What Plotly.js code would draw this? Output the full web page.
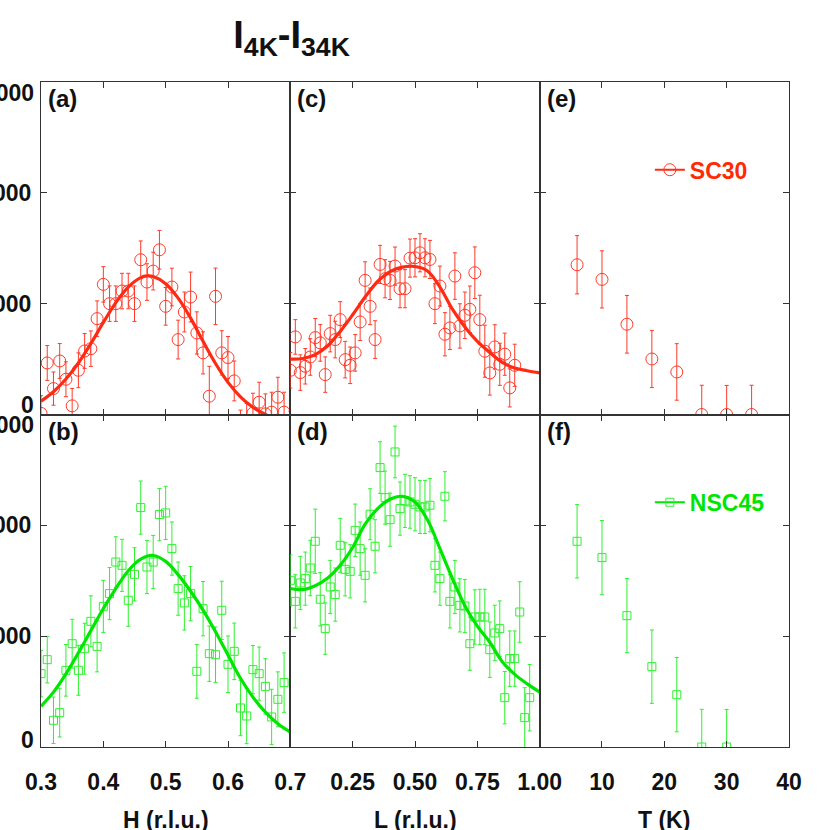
<!DOCTYPE html>
<html><head><meta charset="utf-8">
<script src="https://cdn.plot.ly/plotly-3.0.1.min.js"></script>
<style>html,body{margin:0;padding:0;background:#fff}#chart{width:830px;height:830px}</style>
</head><body><div id="chart"></div>
<script>
// ---------- data ----------
const hScanA = [0.30,0.31,0.32,0.33,0.34,0.35,0.36,0.37,0.38,0.39,0.40,0.41,0.42,0.43,0.44,0.45,0.46,0.47,0.48,0.49,0.50,0.51,0.52,0.53,0.54,0.55,0.56,0.57,0.58,0.59,0.60,0.61,0.62,0.63,0.64,0.65,0.66,0.67,0.68,0.69,0.70];
const sc30H = [10,465,234,483,318,78,399,573,594,865,1174,1000,1000,1114,1114,1000,1396,1195,1294,1486,976,1150,676,925,1060,736,556,165,1066,556,514,303,-140,-80,12,111,6,21,156,21,-150];
const sc30HErr = [160,157,150,157,157,157,157,157,160,160,160,160,160,160,160,160,170,165,170,175,170,170,175,180,225,190,190,270,255,200,190,180,180,180,180,180,180,180,180,180,180];

const hScanB = [0.30,0.31,0.32,0.33,0.34,0.35,0.36,0.37,0.38,0.39,0.40,0.41,0.42,0.43,0.44,0.45,0.46,0.47,0.48,0.49,0.50,0.51,0.52,0.53,0.54,0.55,0.56,0.57,0.58,0.59,0.60,0.61,0.62,0.63,0.64,0.65,0.66,0.67,0.68,0.69];
const nsc45H = [662,788,241,310,692,932,692,887,1134,908,1269,1384,1669,1639,1324,1558,2160,1624,1669,2097,2112,1790,1429,1300,1384,683,1248,842,833,1233,746,863,352,280,698,662,547,271,430,581];
const nsc45HErr = [210,210,210,220,233,220,225,230,230,230,235,235,228,235,235,240,240,240,240,236,240,240,240,245,245,243,245,250,250,263,255,255,250,250,218,240,250,250,248,268];

const lScanC = [0.00,0.02,0.04,0.06,0.08,0.10,0.12,0.14,0.16,0.18,0.20,0.22,0.24,0.26,0.28,0.30,0.32,0.34,0.36,0.38,0.40,0.42,0.44,0.46,0.48,0.50,0.52,0.54,0.56,0.58,0.60,0.62,0.64,0.66,0.68,0.70,0.72,0.74,0.76,0.78,0.80,0.82,0.84,0.86,0.88,0.90];
const sc30L = [399,700,378,435,519,694,646,360,730,676,856,495,444,556,835,1210,976,676,1354,1225,1210,1339,1135,1135,1411,1414,1459,1414,1399,1000,1159,724,781,1249,799,895,949,1279,856,571,375,610,453,544,240,444];
const sc30LErr = [160,156,160,160,165,172,165,160,165,165,162,165,165,165,168,168,165,170,172,172,172,172,172,172,172,172,172,172,172,180,180,195,195,210,200,210,210,233,220,235,200,200,190,190,172,190];

const lScanD = [0.00,0.02,0.04,0.06,0.08,0.10,0.12,0.14,0.16,0.18,0.20,0.22,0.24,0.26,0.28,0.30,0.32,0.34,0.36,0.38,0.40,0.42,0.44,0.46,0.48,0.50,0.52,0.54,0.56,0.58,0.60,0.62,0.64,0.66,0.68,0.70,0.72,0.74,0.76,0.78,0.80,0.82,0.84,0.86,0.88,0.90,0.92,0.94,0.96];
const nsc45L = [1504,1314,1480,1519,1615,1856,1333,1068,1444,1375,1820,1603,1585,1955,1790,1549,2100,1811,2521,2250,2051,2662,2151,2220,2211,2190,2166,2166,2181,1639,1519,2262,1314,1444,1278,1272,932,1173,1173,1173,878,1029,1068,445,797,797,1218,265,445];
const nsc45LErr = [230,240,240,240,250,290,240,232,240,240,243,240,240,237,240,240,230,240,233,240,240,233,240,240,237,240,240,240,240,240,240,222,240,240,240,240,240,245,250,250,250,250,250,236,250,250,273,270,300];

const tempE = [6,10,14,18,22,26,30,34];
const sc30T = [1351,1219,814,501,384,0,0,0];
const sc30TErr = [263,258,260,258,255,264,262,264];

const tempF = [6,10,14,18,22,26,30];
const nsc45T = [1856,1709,1185,725,472,0,0];
const nsc45TErr = [331,335,334,331,335,340,338];

// fitted curves
const fitHA = [0.30,0.32,0.34,0.36,0.38,0.40,0.42,0.44,0.46,0.47,0.48,0.50,0.52,0.54,0.56,0.58,0.60,0.62,0.64,0.66,0.68,0.70];
const fitSC30H = [120,205,320,465,640,830,1010,1150,1235,1250,1245,1180,1050,870,660,460,290,160,65,0,-50,-80];
const fitHB = [0.30,0.32,0.34,0.36,0.38,0.40,0.42,0.44,0.46,0.48,0.50,0.52,0.54,0.56,0.58,0.60,0.62,0.64,0.66,0.68,0.70];
const fitNSC45H = [367,495,660,850,1050,1250,1430,1590,1695,1728,1675,1555,1405,1235,1040,830,620,450,315,210,135];
const fitL = [0.00,0.05,0.10,0.15,0.20,0.25,0.30,0.35,0.40,0.45,0.50,0.55,0.60,0.65,0.70,0.75,0.80,0.85,0.90,0.95,1.00];
const fitSC30L = [500,505,540,620,750,900,1060,1200,1290,1330,1335,1295,1150,950,790,660,560,470,420,395,375];
const fitNSC45L = [1430,1420,1455,1525,1640,1800,2010,2150,2235,2262,2210,2050,1790,1520,1275,1090,945,770,655,570,496];

// axis ticks and labels
const yTickVals = [1000,2000];
const yTickText = ['1000','2000'];
const yEndLabels = [3000, 0];
const hTickVals = [0.3,0.4,0.5,0.6,0.7];
const hTickText = ['0.3','0.4','0.5','0.6','0.7'];
const lTickVals = [0.25,0.5,0.75,1.0];
const lTickText = ['0.25','0.50','0.75','1.00'];
const tTickVals = [10,20,30,40];
const tTickText = ['10','20','30','40'];
const panelLabels = ['(a)','(c)','(e)','(b)','(d)','(f)'];
const seriesNames = ['SC30','NSC45'];
const axisTitles = ['H (r.l.u.)','L (r.l.u.)','T (K)'];

// ---------- style ----------
const FONT = 'Liberation Sans, Arial, Helvetica, sans-serif';
const RED = '#ff2a14', RED_M = '#ff3a28';
const GREEN = '#00e600', GREEN_M = '#2ef02e';

function pts(x, y, err, xa, ya, sym, size, col) {
  return {x: x, y: y, type: 'scatter', mode: 'markers', xaxis: xa, yaxis: ya, showlegend: false,
    cliponaxis: true,
    marker: {symbol: sym, size: size, color: col, line: {color: col, width: 1}},
    error_y: {type: 'data', array: err, visible: true, color: col, thickness: 1, width: 2}};
}
function fit(x, y, xa, ya, col) {
  return {x: x, y: y, type: 'scatter', mode: 'lines', xaxis: xa, yaxis: ya, showlegend: false,
    line: {color: col, width: 3.2, shape: 'spline', smoothing: 1}, hoverinfo: 'skip'};
}

const data = [
  pts(hScanA, sc30H, sc30HErr, 'x', 'y', 'circle-open', 12, RED_M),
  fit(fitHA, fitSC30H, 'x', 'y', RED),
  pts(lScanC, sc30L, sc30LErr, 'x2', 'y2', 'circle-open', 12, RED_M),
  fit(fitL, fitSC30L, 'x2', 'y2', RED),
  pts(tempE, sc30T, sc30TErr, 'x3', 'y3', 'circle-open', 12, RED_M),
  pts(hScanB, nsc45H, nsc45HErr, 'x4', 'y4', 'square-open', 8, GREEN_M),
  fit(fitHB, fitNSC45H, 'x4', 'y4', GREEN),
  pts(lScanD, nsc45L, nsc45LErr, 'x5', 'y5', 'square-open', 8, GREEN_M),
  fit(fitL, fitNSC45L, 'x5', 'y5', GREEN),
  pts(tempF, nsc45T, nsc45TErr, 'x6', 'y6', 'square-open', 8, GREEN_M),
  // legend entries
  {x: [null], y: [null], type: 'scatter', mode: 'lines+markers', name: seriesNames[0], legend: 'legend',
   xaxis: 'x3', yaxis: 'y3', marker: {symbol: 'circle-open', size: 12, color: RED_M, line: {width: 1}},
   line: {color: RED, width: 2}},
  {x: [null], y: [null], type: 'scatter', mode: 'lines+markers', name: seriesNames[1], legend: 'legend2',
   xaxis: 'x6', yaxis: 'y6', marker: {symbol: 'square-open', size: 8, color: GREEN_M, line: {width: 1}},
   line: {color: GREEN, width: 2}}
];

const tickFont = {family: FONT, size: 23, weight: 'bold', color: '#111'};
function ax(extra) {
  return Object.assign({showline: true, linecolor: '#333', linewidth: 1, mirror: 'allticks',
    ticks: 'inside', ticklen: 6, tickcolor: '#333', tickwidth: 1, showgrid: false, zeroline: false,
    tickfont: tickFont, fixedrange: true}, extra);
}
const d1 = [0, 1/3], d2 = [1/3, 2/3], d3 = [2/3, 1];
const domTop = [0.5, 1], domBot = [0, 0.5];
const titleFont = {family: FONT, size: 23, weight: 'bold', color: '#111'};
const XSTAND = 14;

const layout = {
  width: 830, height: 830,
  margin: {l: 41, r: 41, t: 82, b: 83},
  paper_bgcolor: '#fff', plot_bgcolor: '#fff',
  font: {family: FONT, color: '#111'},
  title: {text: 'I<sub>4K</sub>-I<sub>34K</sub>', xref: 'paper', x: 0.335, xanchor: 'center',
          yref: 'container', y: 0.958, yanchor: 'middle',
          font: {family: FONT, size: 38, weight: 'bold', color: '#111'}},
  xaxis:  ax({domain: d1, range: [0.3, 0.7], anchor: 'y', tickvals: hTickVals, showticklabels: false}),
  yaxis:  ax({domain: domTop, range: [0, 3000], anchor: 'x', tickvals: yTickVals, ticktext: yTickText, ticklabelstandoff: 4}),
  xaxis2: ax({domain: d2, range: [0, 1], anchor: 'y2', tickvals: lTickVals, showticklabels: false}),
  yaxis2: ax({domain: domTop, range: [0, 3000], anchor: 'x2', tickvals: yTickVals, showticklabels: false}),
  xaxis3: ax({domain: d3, range: [0, 40], anchor: 'y3', tickvals: tTickVals, showticklabels: false}),
  yaxis3: ax({domain: domTop, range: [0, 3000], anchor: 'x3', tickvals: yTickVals, showticklabels: false}),
  xaxis4: ax({domain: d1, range: [0.3, 0.7], anchor: 'y4', tickvals: hTickVals, ticktext: hTickText,
              ticklabelstandoff: XSTAND}),
  yaxis4: ax({domain: domBot, range: [0, 3000], anchor: 'x4', tickvals: yTickVals, ticktext: yTickText, ticklabelstandoff: 4}),
  xaxis5: ax({domain: d2, range: [0, 1], anchor: 'y5', tickvals: lTickVals, ticktext: lTickText,
              ticklabelstandoff: XSTAND}),
  yaxis5: ax({domain: domBot, range: [0, 3000], anchor: 'x5', tickvals: yTickVals, showticklabels: false}),
  xaxis6: ax({domain: d3, range: [0, 40], anchor: 'y6', tickvals: tTickVals, ticktext: tTickText,
              ticklabelstandoff: XSTAND}),
  yaxis6: ax({domain: domBot, range: [0, 3000], anchor: 'x6', tickvals: yTickVals, showticklabels: false}),
  legend: {x: 0.814, y: 0.868, xref: 'paper', yref: 'paper', xanchor: 'left', yanchor: 'middle',
           bgcolor: 'rgba(0,0,0,0)', borderwidth: 0, itemwidth: 30,
           font: {family: FONT, size: 23, weight: 'bold', color: '#ff2a00'}},
  legend2: {x: 0.814, y: 0.368, xref: 'paper', yref: 'paper', xanchor: 'left', yanchor: 'middle',
           bgcolor: 'rgba(0,0,0,0)', borderwidth: 0, itemwidth: 30,
           font: {family: FONT, size: 23, weight: 'bold', color: '#00e600'}},
  annotations: []
};

// panel letters
const axPairs = [['x','y'],['x2','y2'],['x3','y3'],['x4','y4'],['x5','y5'],['x6','y6']];
axPairs.forEach(function(p, i) {
  layout.annotations.push({text: panelLabels[i], xref: p[0] + ' domain', yref: p[1] + ' domain',
    x: 0, y: 1, xanchor: 'left', yanchor: 'top', xshift: 5, yshift: -1, showarrow: false,
    font: {family: FONT, size: 24, weight: 'bold', color: '#111'}});
});
// x-axis titles, placed low like the original (partly below the page edge)
['x4','x5','x6'].forEach(function(xa, i) {
  layout.annotations.push({text: axisTitles[i], xref: xa + ' domain', yref: 'paper', x: 0.5, y: 0,
    xanchor: 'center', yanchor: 'middle', yshift: -73, showarrow: false, font: titleFont});
});
// end tick labels of the left y axes, nudged inside the panel like the original
[['y', yEndLabels[0], -11], ['y', yEndLabels[1], 10], ['y4', yEndLabels[0], -10], ['y4', yEndLabels[1], 7]].forEach(function(a) {
  layout.annotations.push({text: String(a[1]), xref: 'paper', yref: a[0], x: 0, y: a[1],
    xanchor: 'right', yanchor: 'middle', xshift: -5, yshift: a[2], showarrow: false,
    font: tickFont});
});

Plotly.newPlot('chart', data, layout, {staticPlot: true, displayModeBar: false});
</script>
</body></html>
